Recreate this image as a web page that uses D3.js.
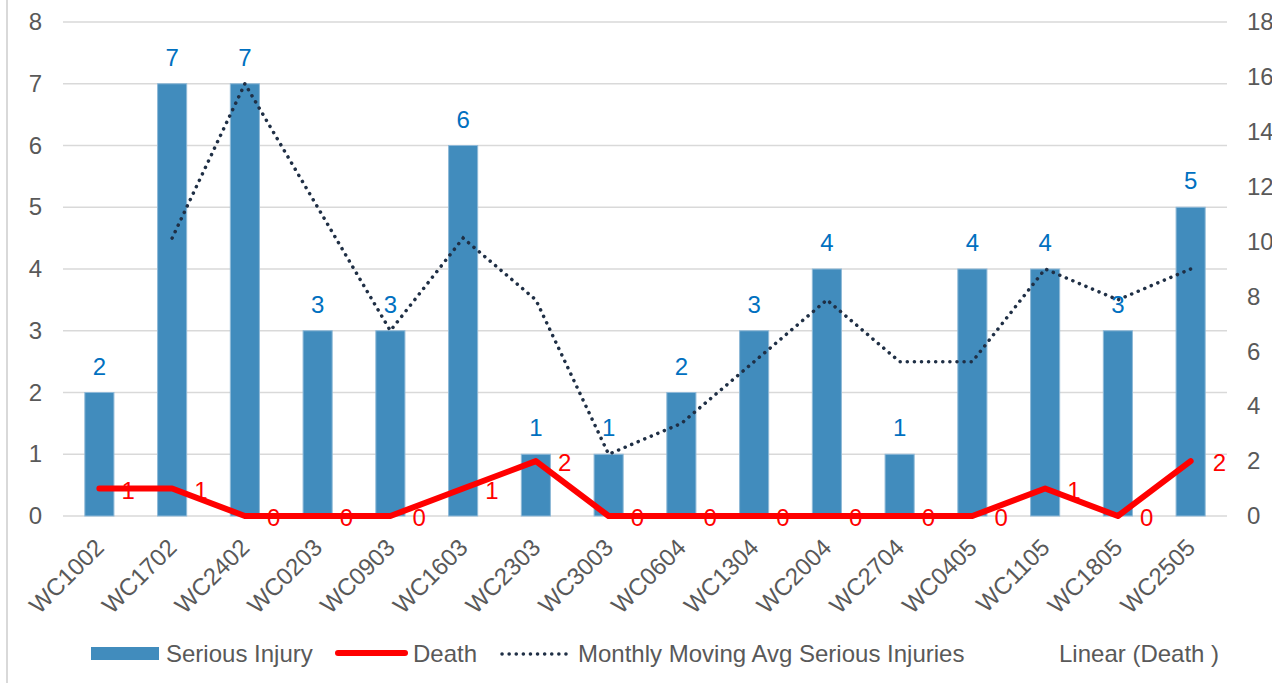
<!DOCTYPE html>
<html>
<head>
<meta charset="utf-8">
<script src="https://cdn.jsdelivr.net/npm/d3@7"></script>
<style>
html,body{margin:0;padding:0;background:#fff;overflow:hidden;}
svg{display:block;font-family:"Liberation Sans",Arial,sans-serif;}
</style>
</head>
<body>
<svg id="chart" width="1272" height="683"></svg>
<script>
const categories = ["WC1002","WC1702","WC2402","WC0203","WC0903","WC1603","WC2303","WC3003","WC0604","WC1304","WC2004","WC2704","WC0405","WC1105","WC1805","WC2505"];
const seriousInjury = [2,7,7,3,3,6,1,1,2,3,4,1,4,4,3,5];
const death = [1,1,0,0,0,1,2,0,0,0,0,0,0,1,0,2];
const movingAvg = [null,4.5,7,5,3,4.5,3.5,1,1.5,2.5,3.5,2.5,2.5,4,3.5,4];
const leftTicks = [0,1,2,3,4,5,6,7,8];
const rightTicks = [0,2,4,6,8,10,12,14,16,18];
const legendLabels = ["Serious Injury","Death","Monthly Moving Avg Serious Injuries","Linear (Death )"];

const svg = d3.select("#chart");
const L = 63, R = 1227, T = 22, B = 516;
const FS = 24;

svg.append("line").attr("x1",7).attr("x2",7).attr("y1",0).attr("y2",683)
  .attr("stroke","#d9d9d9").attr("stroke-width",2);

const x = d3.scaleBand().domain(categories).range([L,R]).paddingInner(0.6).paddingOuter(0.3);
const xc = d => x(d) + x.bandwidth()/2;
const y = d3.scaleLinear().domain([0,8]).range([B,T]);
const y2 = d3.scaleLinear().domain([0,18]).range([B,T]);

// gridlines
svg.append("g").selectAll("line").data(leftTicks).join("line")
  .attr("x1",L).attr("x2",R).attr("y1",d=>y(d)).attr("y2",d=>y(d))
  .attr("stroke","#d9d9d9").attr("stroke-width",1.5);

// left axis
const ga = svg.append("g").attr("transform",`translate(${L},0)`)
  .call(d3.axisLeft(y).tickValues(leftTicks).tickSize(0).tickPadding(21).tickFormat(d3.format("d")));
ga.select(".domain").remove();
ga.selectAll("text").attr("font-size",FS).attr("fill","#595959").attr("font-family","Liberation Sans, Arial, sans-serif");

// right axis
const gr = svg.append("g").attr("transform",`translate(${R},0)`)
  .call(d3.axisRight(y2).tickValues(rightTicks).tickSize(0).tickPadding(20).tickFormat(d3.format("d")));
gr.select(".domain").remove();
gr.selectAll("text").attr("font-size",FS).attr("fill","#595959").attr("font-family","Liberation Sans, Arial, sans-serif");

// bars
svg.append("g").selectAll("rect").data(seriousInjury).join("rect")
  .attr("x",(d,i)=>x(categories[i]))
  .attr("width",x.bandwidth())
  .attr("y",d=>y(d))
  .attr("height",d=>B - y(d))
  .attr("fill","#418cbd").attr("stroke","#8fb9d8").attr("stroke-width",1);

// bar labels
svg.append("g").selectAll("text").data(seriousInjury).join("text")
  .attr("x",(d,i)=>xc(categories[i]))
  .attr("y",d=>y(d)-18)
  .attr("text-anchor","middle").attr("font-size",FS).attr("fill","#0070c0")
  .text(d=>d);

// x axis labels
svg.append("g").selectAll("text").data(categories).join("text")
  .attr("transform",d=>`translate(${xc(d)+6},${B+33}) rotate(-45)`)
  .attr("text-anchor","end").attr("font-size",FS).attr("fill","#595959")
  .text(d=>d);

// moving avg dotted line (left axis)
svg.append("path").datum(movingAvg.map((v,i)=>({v,c:categories[i]})))
  .attr("d",d3.line().defined(d=>d.v!=null).x(d=>xc(d.c)).y(d=>y(d.v)))
  .attr("fill","none").attr("stroke","#1f2f45").attr("stroke-width",3.5)
  .attr("stroke-linecap","round").attr("stroke-dasharray","0.1 7");

// death line (right axis)
svg.append("path").datum(death.map((v,i)=>({v,c:categories[i]})))
  .attr("d",d3.line().x(d=>xc(d.c)).y(d=>y2(d.v)))
  .attr("fill","none").attr("stroke","#ff0000").attr("stroke-width",6)
  .attr("stroke-linejoin","round").attr("stroke-linecap","round");

// death labels
svg.append("g").selectAll("text").data(death).join("text")
  .attr("x",(d,i)=>xc(categories[i])+22)
  .attr("y",d=>y2(d)+10)
  .attr("font-size",FS).attr("fill","#ff0000")
  .text(d=>d);

// legend
const lg = svg.append("g").attr("font-size",FS).attr("fill","#595959");
const ly = 662;
lg.append("rect").attr("x",91).attr("y",647).attr("width",68).attr("height",13).attr("fill","#418cbd");
lg.append("text").attr("x",166).attr("y",ly).text(legendLabels[0]);
lg.append("line").attr("x1",338).attr("x2",405).attr("y1",653).attr("y2",653)
  .attr("stroke","#ff0000").attr("stroke-width",6).attr("stroke-linecap","round");
lg.append("text").attr("x",413).attr("y",ly).text(legendLabels[1]);
lg.append("line").attr("x1",502).attr("x2",572).attr("y1",654).attr("y2",654)
  .attr("stroke","#1f2f45").attr("stroke-width",3.5).attr("stroke-linecap","round").attr("stroke-dasharray","0.1 7");
lg.append("text").attr("x",578).attr("y",ly).text(legendLabels[2]);
lg.append("text").attr("x",1059).attr("y",ly).text(legendLabels[3]);
</script>
</body>
</html>
